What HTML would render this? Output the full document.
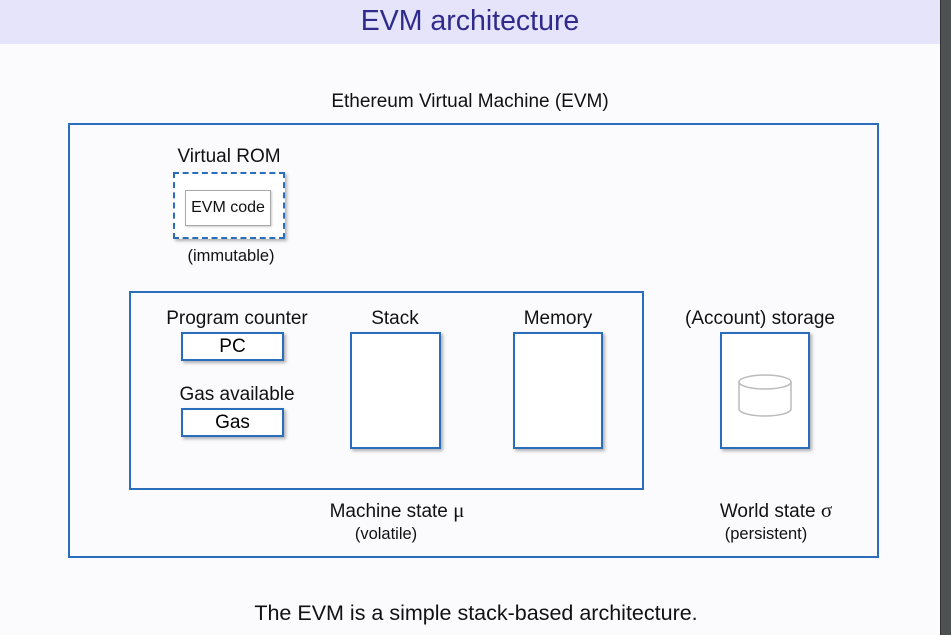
<!DOCTYPE html>
<html><head><style>
body{margin:0;width:951px;height:635px;position:relative;background:#fbfbfe;font-family:"Liberation Sans",sans-serif;overflow:hidden}
.a{position:absolute}
.t{position:absolute;color:#111;font-size:19px;white-space:nowrap;transform:translateX(-50%)}
.s{font-size:16.5px}
.b{position:absolute;border:2px solid #2a6ebb;background:#fff;box-sizing:border-box;box-shadow:2px 2px 3px rgba(0,0,0,.3)}
.g{font-family:"Liberation Serif",serif;font-size:21px}
</style></head><body>
<div class="a" style="left:0;top:0;width:940px;height:44px;background:#e6e4fa"></div>
<div class="a" style="left:940px;top:0;width:11px;height:635px;background:#4d5152;border-left:1px solid #333"></div>
<div class="t" style="left:470px;top:5px;font-size:28.5px;color:#2f2a8c">EVM architecture</div>
<div class="t" style="left:470px;top:91px">Ethereum Virtual Machine (EVM)</div>
<div class="a" style="left:68px;top:123px;width:811px;height:435px;border:2px solid #2a6ebb;box-sizing:border-box"></div>
<div class="t" style="left:229px;top:146px">Virtual ROM</div>
<div class="a" style="left:173px;top:172px;width:112px;height:67px;border:2px dashed #2a6ebb;box-sizing:border-box;background:#fff;box-shadow:2px 2px 3px rgba(0,0,0,.3)"></div>
<div class="a" style="left:185px;top:190px;width:86px;height:36px;border:1px solid #aaa;background:#fff;box-sizing:border-box;box-shadow:1px 1px 2px rgba(0,0,0,.2);font-size:16px;line-height:34px;text-align:center;color:#111">EVM code</div>
<div class="t s" style="left:231px;top:247px">(immutable)</div>
<div class="a" style="left:129px;top:291px;width:515px;height:199px;border:2px solid #2a6ebb;box-sizing:border-box"></div>
<div class="t" style="left:237px;top:308px">Program counter</div>
<div class="b" style="left:181px;top:332px;width:103px;height:29px;font-size:19px;line-height:26px;text-align:center">PC</div>
<div class="t" style="left:237px;top:384px">Gas available</div>
<div class="b" style="left:181px;top:408px;width:103px;height:29px;font-size:19px;line-height:26px;text-align:center">Gas</div>
<div class="t" style="left:395px;top:308px">Stack</div>
<div class="b" style="left:350px;top:332px;width:91px;height:117px"></div>
<div class="t" style="left:558px;top:308px">Memory</div>
<div class="b" style="left:513px;top:332px;width:90px;height:117px"></div>
<div class="t" style="left:760px;top:308px">(Account) storage</div>
<div class="b" style="left:720px;top:332px;width:90px;height:117px"></div>
<svg class="a" style="left:736px;top:372px" width="58" height="46"><g fill="none" stroke="#bbb" stroke-width="1.5"><ellipse cx="29" cy="10" rx="26" ry="7"/><path d="M3 10V37A26 7 0 0 0 55 37V10"/></g></svg>
<div class="t" style="left:397px;top:498px">Machine state <span class="g">μ</span></div>
<div class="t s" style="left:386px;top:525px">(volatile)</div>
<div class="t" style="left:776px;top:498px">World state <span class="g">σ</span></div>
<div class="t s" style="left:766px;top:525px">(persistent)</div>
<div class="t" style="left:476px;top:601px;font-size:21.5px">The EVM is a simple stack-based architecture.</div>
</body></html>
